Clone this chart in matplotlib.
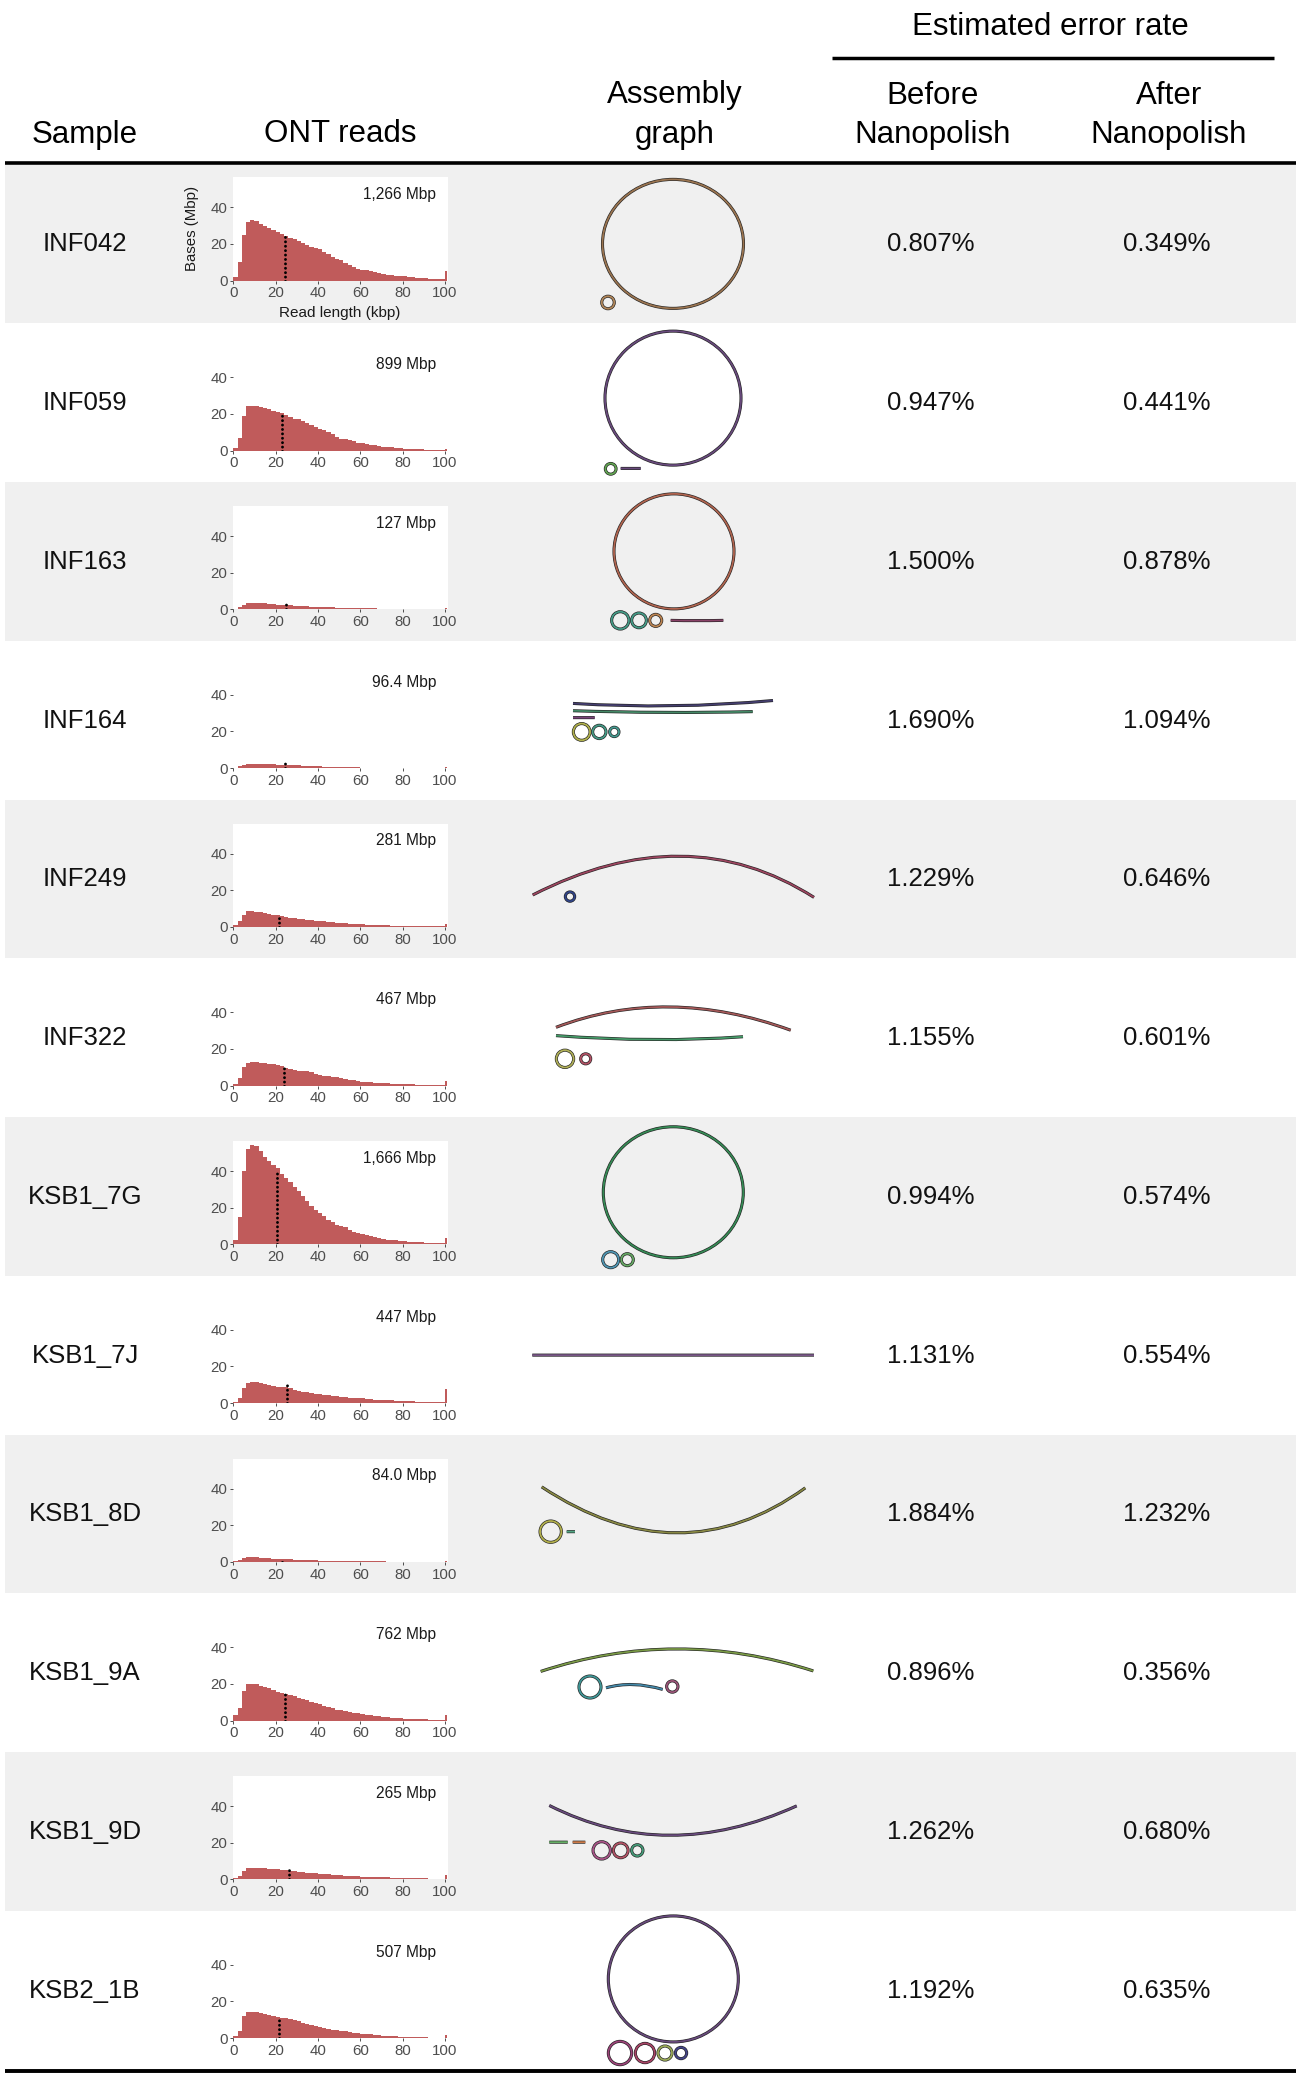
import numpy as np
import matplotlib
matplotlib.use("Agg")
import matplotlib.pyplot as plt
from matplotlib.patches import Rectangle, Ellipse, PathPatch
from matplotlib.path import Path
import matplotlib.patheffects as pe

plt.rcParams['font.family'] = ['Liberation Sans', 'DejaVu Sans']

samples = ['INF042', 'INF059', 'INF163', 'INF164', 'INF249', 'INF322',
           'KSB1_7G', 'KSB1_7J', 'KSB1_8D', 'KSB1_9A', 'KSB1_9D', 'KSB2_1B']
err_before = [0.807, 0.947, 1.500, 1.690, 1.229, 1.155, 0.994, 1.131, 1.884, 0.896, 1.262, 1.192]
err_after = [0.349, 0.441, 0.878, 1.094, 0.646, 0.601, 0.574, 0.554, 1.232, 0.356, 0.680, 0.635]
total_mbp = [1266, 899, 127, 96.4, 281, 467, 1666, 447, 84.0, 762, 265, 507]
n50_kbp = [24.2, 23.0, 24.7, 24.5, 21.5, 23.8, 20.8, 25.5, 23.0, 24.5, 26.4, 21.7]
n50_top = [25, 20, 3, 2.5, 5.5, 9.6, 40.5, 10, 0.4, 14.7, 5.1, 11.8]

# read length histogram, 2 kbp bins from 0 to 100 kbp (Mbp per kbp)
bin_left = list(range(0, 100, 2))
hist = [
    [2, 10, 25, 32, 33, 32.5, 31, 30, 28.5, 27.5, 26.5, 25.5, 24.5, 23.5, 22.5, 21.5, 20.5, 19.5, 18.5, 18,
     17, 15.5, 14.5, 13, 12, 11, 9.5, 8.5, 7.5, 6.5, 6, 5.5, 5, 4.5, 4, 3.8, 3.2, 2.8, 2.5, 2.2,
     2.2, 2, 1.8, 1.6, 1.4, 1.2, 1, 0.9, 0.8, 0.6],
    [1.5, 7, 19, 24.5, 24.5, 24.3, 24, 23.5, 22.5, 21.8, 21, 20.3, 19.5, 18.5, 17.5, 17, 16, 15, 14, 13,
     12, 11, 10, 9, 7.5, 6.5, 6.2, 5.8, 5, 4.3, 4, 3.6, 3.2, 2.8, 2.4, 2.1, 1.9, 1.7, 1.5, 1.2,
     1.1, 1, 0.9, 0.8, 0.6, 0.5, 0.5, 0.4, 0.4, 0.3],
    [0.4, 1.3, 2.6, 3.4, 3.6, 3.5, 3.4, 3.2, 3.0, 2.8, 2.6, 2.5, 2.3, 2.2, 2.0, 1.9, 1.8, 1.6, 1.5, 1.4,
     1.3, 1.2, 1.1, 1.0, 0.95, 0.85, 0.8, 0.75, 0.7, 0.6, 0.55, 0.5, 0.5, 0.45, 0.4, 0.4, 0.35, 0.35, 0.3, 0.3,
     0.3, 0.25, 0.25, 0.2, 0.2, 0.2, 0.2, 0.15, 0.15, 0.15],
    [0.3, 1.0, 1.7, 2.1, 2.3, 2.3, 2.3, 2.2, 2.1, 2.0, 1.9, 1.8, 1.7, 1.6, 1.5, 1.4, 1.3, 1.2, 1.1, 1.0,
     0.9, 0.8, 0.7, 0.65, 0.6, 0.55, 0.5, 0.45, 0.4, 0.35, 0.3, 0.3, 0.25, 0.25, 0.2, 0.2, 0.2, 0.15, 0.15, 0.15,
     0.1, 0.1, 0.1, 0.1, 0.1, 0.1, 0.1, 0.05, 0.05, 0.05],
    [1.2, 3, 6.5, 8.5, 8.5, 8.3, 8, 7.5, 7, 6.6, 6.2, 5.8, 5.4, 5, 4.6, 4.2, 4, 3.8, 3.5, 3.3,
     3.1, 2.9, 2.7, 2.5, 2.3, 2.2, 2, 1.8, 1.6, 1.4, 1.3, 1.2, 1.1, 1, 0.9, 0.9, 0.8, 0.7, 0.6, 0.5,
     0.4, 0.4, 0.35, 0.3, 0.3, 0.25, 0.2, 0.2, 0.2, 0.2],
    [1, 4, 10, 12.3, 12.7, 12.7, 12.5, 12.3, 12, 11.7, 11.3, 10.7, 9.8, 9, 8.5, 8, 7.8, 7.8, 7.6, 6.5,
     5.7, 5.4, 5.1, 4.8, 4.5, 4.2, 3.7, 3.2, 2.8, 2.3, 1.9, 1.8, 1.7, 1.6, 1.5, 1.4, 1.2, 1.1, 1, 0.9,
     0.8, 0.7, 0.6, 0.5, 0.5, 0.4, 0.4, 0.3, 0.3, 0.3],
    [2.5, 15, 40, 52, 54.5, 53.5, 51, 48, 45.5, 43.5, 41.5, 38.5, 36.5, 34, 31.5, 29, 26.5, 23.5, 21, 19,
     17, 15.3, 13.5, 12, 10.7, 10.2, 9.5, 8, 6.8, 6, 5.4, 4.9, 4.4, 3.9, 3.4, 2.9, 2.6, 2.3, 2.1, 1.8,
     1.6, 1.4, 1.2, 1.1, 1, 0.9, 0.8, 0.7, 0.7, 0.6],
    [0.8, 3, 8, 11, 11.5, 11.3, 10.8, 10.3, 9.8, 9.3, 9, 8.9, 8.8, 8.2, 7.2, 6.6, 6.2, 5.8, 5.5, 5.1,
     4.8, 4.6, 4.3, 4, 3.7, 3.5, 3.2, 3, 2.8, 2.6, 2.5, 2.3, 2.1, 1.9, 1.7, 1.6, 1.5, 1.4, 1.3, 1.2,
     1.1, 1, 0.9, 0.8, 0.7, 0.6, 0.5, 0.5, 0.4, 0.4],
    [0.3, 1.2, 2.2, 2.7, 2.6, 2.4, 2.2, 2, 1.9, 1.7, 1.6, 1.5, 1.4, 1.3, 1.2, 1.1, 1, 0.95, 0.9, 0.8,
     0.7, 0.65, 0.6, 0.55, 0.5, 0.45, 0.4, 0.4, 0.35, 0.3, 0.3, 0.25, 0.25, 0.2, 0.2, 0.2, 0.15, 0.15, 0.15, 0.1,
     0.1, 0.1, 0.1, 0.1, 0.05, 0.05, 0.05, 0.05, 0.05, 0.05],
    [3, 7, 16, 19.8, 20.2, 19.8, 19, 18.4, 17.6, 16.7, 15.8, 15.2, 14.6, 14, 13.2, 12.5, 11.7, 11, 10.2, 9.5,
     8.8, 8, 7.3, 6.6, 6, 5.5, 5.1, 4.8, 4.4, 4, 3.7, 3.3, 3, 2.6, 2.3, 2, 1.8, 1.6, 1.4, 1.2,
     1.1, 1, 0.9, 0.8, 0.7, 0.6, 0.5, 0.45, 0.4, 0.35],
    [0.5, 2, 4.8, 6, 6.3, 6.4, 6.3, 6.1, 5.9, 5.7, 5.5, 5.3, 5.1, 4.8, 4.4, 4.1, 3.9, 3.7, 3.5, 3.3,
     3.1, 2.9, 2.7, 2.5, 2.35, 2.2, 2.05, 1.9, 1.75, 1.6, 1.5, 1.4, 1.3, 1.2, 1.1, 1.05, 1, 0.9, 0.8, 0.75,
     0.7, 0.65, 0.6, 0.55, 0.5, 0.45, 0.4, 0.35, 0.3, 0.3],
    [1, 4, 12, 14.3, 14.5, 14.3, 13.8, 13.2, 12.6, 12.1, 11.7, 11.2, 10.7, 10.2, 9.6, 9.1, 8.4, 7.7, 7, 6.4,
     5.8, 5.4, 5, 4.6, 4.3, 4, 3.7, 3.3, 3, 2.7, 2.4, 2.2, 2, 1.7, 1.5, 1.3, 1.2, 1, 0.9, 0.7,
     0.6, 0.55, 0.5, 0.45, 0.4, 0.35, 0.3, 0.3, 0.25, 0.25],
]
# reads >= 100 kbp piled into the last bin
long_bin = [5.3, 1.0, 0.8, 0.7, 1.3, 2.7, 3.3, 7.5, 0.4, 3.3, 2.6, 1.8]

# assembly graph sketches: offsets (px) from the graph cell centre
graphs = [
    [('ring', 0, 0, 141, 129, '#9a7450'), ('ring', -65, 58.6, 12.5, 12.5, '#b0865a')],
    [('ring', 0, -4.5, 136, 134, '#684a7c'), ('ring', -62.3, 66.2, 10.7, 10.7, '#62a452'),
     ('arc', -52.3, 65.8, -42.3, 65.8, -32.3, 65.8, '#684a7c')],
    [('ring', 1, -10, 120, 115, '#b0644f'), ('ring', -52.7, 59, 17.3, 17.3, '#459a86'),
     ('ring', -34, 59, 14.7, 14.7, '#459a86'), ('ring', -17.3, 59, 12, 12, '#bc8452'),
     ('arc', -2.3, 59, 24, 59.3, 50.3, 59, '#8a4268')],
    [('arc', -100, -16.7, 0, -14.3, 100, -19.6, '#443e6e'), ('arc', -100, -9.4, -10, -7.7, 79.7, -8.5, '#448866'),
     ('arc', -100, -2.5, -89, -2.5, -78.3, -2.5, '#7a447a'), ('ring', -91.3, 11.8, 16.7, 16.7, '#b0b04c'),
     ('ring', -73.7, 11.8, 13.3, 13.3, '#459a86'), ('ring', -58.7, 11.8, 9.3, 9.3, '#45998f')],
    [('arc', -140.3, 16.1, 7, -22.7, 141, 18.5, '#9c455f'), ('ring', -103, 17.7, 9.3, 9.3, '#304488')],
    [('arc', -117, -10.3, -3, -30.7, 117.7, -7.4, '#a45858'), ('arc', -117, -2, -20, 2, 70, -0.9, '#459a68'),
     ('ring', -108, 21.2, 17.3, 17.3, '#b0b058'), ('ring', -87.3, 21.2, 10, 10, '#b25265')],
    [('ring', 0.3, -4.1, 140, 131, '#358a55'), ('ring', -62.3, 63.3, 16, 16, '#4f95b2'),
     ('ring', -45.7, 63.3, 12, 12, '#66a864')],
    [('arc', -140.7, 0, 0, 0, 141, 0, '#785686')],
    [('arc', -131.3, -27, 3.7, 19, 132.3, -26, '#888844'), ('ring', -122.3, 17.8, 21.3, 21.3, '#b2af4c'),
     ('arc', -106.3, 17.8, -102, 17.8, -98, 17.8, '#52a684')],
    [('arc', -132.3, -1.2, 3.7, -23.7, 140.3, -1.7, '#7a9a46'), ('ring', -83, 14.4, 22, 22, '#409696'),
     ('arc', -67, 15.2, -39.7, 11.9, -10.3, 16.8, '#4488a8'), ('ring', -0.7, 13.9, 11.3, 11.3, '#9a5478')],
    [('arc', -123.7, -25.9, -3, 3.9, 123.7, -25.5, '#684a7c'), ('arc', -123.7, 10.8, -114.5, 10.8, -105.3, 10.8, '#66ae66'),
     ('arc', -100.3, 10.8, -94, 10.8, -87.7, 10.8, '#cc7a48'), ('ring', -71.3, 19, 17.3, 17.3, '#a85488'),
     ('ring', -52.3, 19, 14.7, 14.7, '#b25265'), ('ring', -35.7, 19, 11.3, 11.3, '#459a78')],
    [('ring', 0.3, -11.2, 130, 126, '#684a7c'), ('ring', -53, 62.9, 23.3, 23.3, '#9a4478'),
     ('ring', -28, 62.9, 19.3, 19.3, '#a84466'), ('ring', -8, 62.9, 14, 14, '#9aaa58'),
     ('ring', 8, 62.9, 11.3, 11.3, '#444488')],
]

W, H = 1301, 2079
ROW0, ROWH = 164.5, 158.75
X_SAMPLE, X_ONT, X_GRAPH, X_BEFORE, X_AFTER = 85, 340, 673, 931, 1167
BAR_COLOR = '#c05b5b'

fig = plt.figure(figsize=(W / 100, H / 100), dpi=100)
ax = fig.add_axes([0, 0, 1, 1])
ax.set_xlim(0, W)
ax.set_ylim(H, 0)
ax.axis('off')

# header
hdr = dict(fontsize=22.5, color='black', ha='center', va='baseline')
ax.text(1050, 35, 'Estimated error rate', **hdr)
ax.plot([832, 1274], [58, 58], color='black', lw=2.5, solid_capstyle='butt')
ax.text(X_SAMPLE, 142.5, 'Sample', **hdr)
ax.text(X_ONT, 142.5, 'ONT reads', **hdr)
ax.text(X_GRAPH + 2, 103.5, 'Assembly', **hdr)
ax.text(X_GRAPH + 2, 142.5, 'graph', **hdr)
ax.text(X_BEFORE + 2, 103.5, 'Before', **hdr)
ax.text(X_BEFORE + 2, 142.5, 'Nanopolish', **hdr)
ax.text(X_AFTER + 2, 103.5, 'After', **hdr)
ax.text(X_AFTER + 2, 142.5, 'Nanopolish', **hdr)
ax.plot([5, 1296], [162.5, 162.5], color='black', lw=2.6, solid_capstyle='butt')
ax.plot([5, 1296], [ROW0 + 12 * ROWH + 1.5] * 2, color='black', lw=2.8, solid_capstyle='butt')


def outline(artist):
    artist.set_path_effects([pe.Stroke(linewidth=2.2, foreground='#222222'), pe.Normal()])


for i, name in enumerate(samples):
    top = ROW0 + i * ROWH
    cy = top + ROWH / 2
    if i % 2 == 0:
        ax.add_patch(Rectangle((5, top), 1291, ROWH, facecolor='#f0f0f0', edgecolor='none', zorder=0))

    txt = dict(fontsize=18.5, color='#111111', ha='center', va='baseline')
    ax.text(X_SAMPLE, cy + 7.5, name, **txt)
    ax.text(X_BEFORE, cy + 7.5, '%.3f%%' % err_before[i], **txt)
    ax.text(X_AFTER, cy + 7.5, '%.3f%%' % err_after[i], **txt)

    # assembly graph
    for shp in graphs[i]:
        if shp[0] == 'ring':
            _, dx, dy, w, h, col = shp
            p = Ellipse((X_GRAPH + dx, cy + dy), w, h, fill=False, edgecolor=col, lw=1.3, zorder=3)
        else:
            _, x0, y0, xm, ym, x1, y1, col = shp
            s = np.array([X_GRAPH + x0, cy + y0])
            m = np.array([X_GRAPH + xm, cy + ym])
            e = np.array([X_GRAPH + x1, cy + y1])
            c = 2 * m - (s + e) / 2
            p = PathPatch(Path([s, c, e], [Path.MOVETO, Path.CURVE3, Path.CURVE3]),
                          fill=False, edgecolor=col, lw=1.3, capstyle='butt', zorder=3)
        outline(p)
        ax.add_patch(p)

    # read length histogram
    shift = -11.3 if i == 0 else 0
    ptop = top + 24 + shift
    pbot = top + 127.3 + shift
    hx = fig.add_axes([233.3 / W, 1 - pbot / H, 214.4 / W, (pbot - ptop) / H])
    hx.set_facecolor('white')
    hx.bar(bin_left, hist[i], width=2, align='edge', color=BAR_COLOR, linewidth=0)
    hx.bar([100], [long_bin[i]], width=1, align='edge', color=BAR_COLOR, linewidth=0)
    hx.plot([n50_kbp[i], n50_kbp[i]], [0, n50_top[i]], color='black', lw=2.1,
            linestyle=(0, (0.01, 1.5)), dash_capstyle='round')
    label = '{:,.0f} Mbp'.format(total_mbp[i]) if total_mbp[i] >= 100 else '%.1f Mbp' % total_mbp[i]
    hx.text(95.8, 47, label, ha='right', va='center', fontsize=11.2, color='#1a1a1a')
    hx.set_xlim(0, 101.3)
    hx.set_ylim(0, 56.5)
    hx.set_xticks([0, 20, 40, 60, 80, 100])
    hx.set_yticks([0, 20, 40])
    for sp in hx.spines.values():
        sp.set_visible(False)
    hx.tick_params(direction='out', length=2.2, width=0.6, color='#333333', labelcolor='#4d4d4d',
                   labelsize=10.8, pad=2)

    if i == 0:
        ax.text(192, (ptop + pbot) / 2, 'Bases (Mbp)', rotation=90, ha='center', va='center',
                fontsize=10.8, color='#1a1a1a')
        ax.text(X_ONT, 313, 'Read length (kbp)', ha='center', va='center', fontsize=11, color='#1a1a1a')

fig.savefig('out.png', dpi=100)
